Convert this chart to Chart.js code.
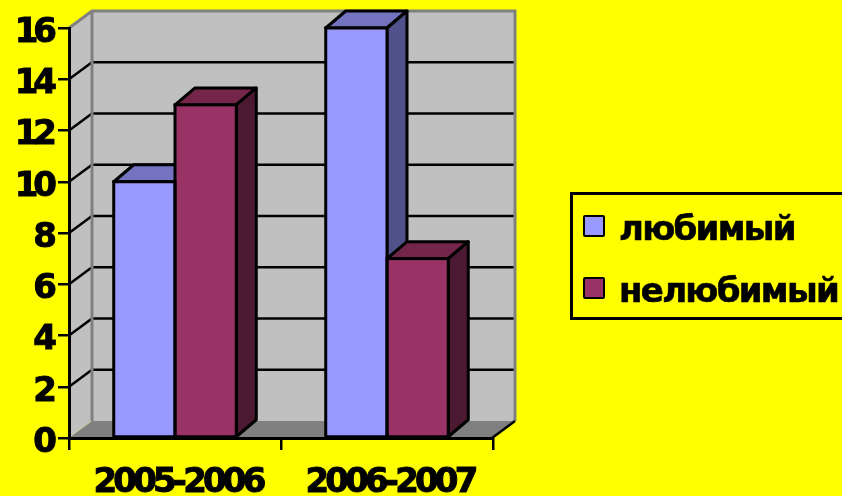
<!DOCTYPE html>
<html>
<head>
<meta charset="utf-8">
<script src="https://cdn.jsdelivr.net/npm/chart.js@4/dist/chart.umd.min.js"></script>
<style>
  html, body { margin: 0; padding: 0; background: #ffff00; overflow: hidden; }
  #wrap { position: relative; width: 842px; height: 496px; }
  #legend {
    position: absolute; left: 570px; top: 192px; width: 280px; height: 122px;
    border: 3px solid #000; box-sizing: content-box;
    font: bold 34px "DejaVu Sans"; letter-spacing: -1.7px; color: #000;
    -webkit-text-stroke: 0.6px #000;
  }
  #legend div { position: absolute; left: 46px; white-space: nowrap; line-height: 40px; }
  #legend i { position: absolute; left: -36px; top: 7px; width: 18px; height: 18px; border: 2.5px solid #000; border-radius: 2px; -webkit-text-stroke: 0; }
</style>
</head>
<body>
<div id="wrap">
  <canvas id="chart" width="842" height="496"></canvas>
  <div id="legend"></div>
</div>
<script>
const categories = ['2005-2006', '2006-2007'];
const seriesNames = ['любимый', 'нелюбимый'];
const liked = [10, 16];
const disliked = [13, 7];
const seriesColors = ['#9999ff', '#993366'];
const topColors = ['#7373bf', '#732649'];
const sideColors = ['#52528a', '#4c1933'];

const depthX = 23, depthY = 17;
const barDepthX = 20;

// fake 3D box: walls and floor go under everything
const walls = {
  id: 'walls',
  beforeDraw(chart) {
    const { ctx, chartArea: a, scales: { x, y } } = chart;
    // the two axes need different tightening of their labels
    const yLabels = y.drawLabels;
    y.drawLabels = function (area) {
      ctx.letterSpacing = '-5px';
      yLabels.call(this, area);
      ctx.letterSpacing = '0px';
    };
    const xLabels = x.drawLabels;
    x.drawLabels = function (area) {
      ctx.letterSpacing = '-3.8px';
      xLabels.call(this, area);
      ctx.letterSpacing = '0px';
    };
    ctx.save();
    const right = a.right - 1;
    ctx.fillStyle = '#c0c0c0';
    ctx.fillRect(a.left + depthX, a.top - depthY, right - a.left, a.height);
    ctx.beginPath();
    ctx.moveTo(a.left, a.top);
    ctx.lineTo(a.left + depthX, a.top - depthY);
    ctx.lineTo(a.left + depthX, a.bottom - depthY);
    ctx.lineTo(a.left, a.bottom);
    ctx.closePath();
    ctx.fill();
    ctx.fillStyle = '#808080';
    ctx.beginPath();
    ctx.moveTo(a.left, a.bottom);
    ctx.lineTo(a.left + depthX, a.bottom - depthY);
    ctx.lineTo(right + depthX, a.bottom - depthY);
    ctx.lineTo(right, a.bottom);
    ctx.closePath();
    ctx.fill();

    // gridlines along the side wall and back wall
    ctx.strokeStyle = '#000';
    ctx.lineWidth = 2.5;
    y.ticks.forEach(t => {
      if (t.value === 0 || t.value === 16) return;
      const py = y.getPixelForValue(t.value);
      ctx.beginPath();
      ctx.moveTo(a.left, py);
      ctx.lineTo(a.left + depthX, py - depthY);
      ctx.lineTo(right + depthX, py - depthY);
      ctx.stroke();
    });

    // grey edges
    ctx.strokeStyle = '#808080';
    ctx.lineWidth = 3;
    ctx.beginPath();
    ctx.moveTo(a.left, a.top);
    ctx.lineTo(a.left + depthX, a.top - depthY);
    ctx.lineTo(right + depthX, a.top - depthY);
    ctx.lineTo(right + depthX, a.bottom - depthY);
    ctx.moveTo(a.left + depthX, a.top - depthY);
    ctx.lineTo(a.left + depthX, a.bottom - depthY);
    ctx.stroke();

    ctx.strokeStyle = '#000';
    ctx.lineWidth = 2.5;
    ctx.beginPath();
    ctx.moveTo(right, a.bottom);
    ctx.lineTo(right + depthX, a.bottom - depthY);
    ctx.stroke();
    ctx.restore();
  }
};

// top and side faces of the bars, fronts come from Chart.js
const barFaces = {
  id: 'barFaces',
  beforeDatasetsDraw(chart) {
    const { ctx } = chart;
    ctx.save();
    ctx.strokeStyle = '#000';
    ctx.lineWidth = 3;
    ctx.lineJoin = 'round';
    chart.data.datasets.forEach((ds, i) => {
      chart.getDatasetMeta(i).data.forEach(bar => {
        const l = bar.x - bar.width / 2, r = bar.x + bar.width / 2;
        ctx.fillStyle = topColors[i];
        ctx.beginPath();
        ctx.moveTo(l, bar.y);
        ctx.lineTo(l + barDepthX, bar.y - depthY);
        ctx.lineTo(r + barDepthX, bar.y - depthY);
        ctx.lineTo(r, bar.y);
        ctx.closePath();
        ctx.fill();
        ctx.stroke();
        ctx.fillStyle = sideColors[i];
        ctx.beginPath();
        ctx.moveTo(r, bar.y);
        ctx.lineTo(r + barDepthX, bar.y - depthY);
        ctx.lineTo(r + barDepthX, bar.base - depthY);
        ctx.lineTo(r, bar.base);
        ctx.closePath();
        ctx.fill();
        ctx.stroke();
      });
    });
    ctx.restore();
  },
  afterDatasetsDraw(chart) {
    const { ctx } = chart;
    ctx.save();
    ctx.strokeStyle = '#000';
    ctx.lineWidth = 3;
    chart.data.datasets.forEach((ds, i) => {
      chart.getDatasetMeta(i).data.forEach(bar => {
        ctx.strokeRect(bar.x - bar.width / 2, bar.y, bar.width, bar.base - bar.y);
      });
    });
    ctx.restore();
  }
};

new Chart(document.getElementById('chart'), {
  type: 'bar',
  data: {
    labels: categories,
    datasets: [
      { label: seriesNames[0], data: liked, backgroundColor: seriesColors[0], borderWidth: 0 },
      { label: seriesNames[1], data: disliked, backgroundColor: seriesColors[1], borderWidth: 0 }
    ]
  },
  options: {
    responsive: false,
    animation: false,
    layout: { padding: { left: 0, top: 28, right: 349, bottom: 0 } },
    plugins: { legend: { display: false }, tooltip: { enabled: false } },
    datasets: { bar: { categoryPercentage: 0.578, barPercentage: 1 } },
    scales: {
      x: {
        afterFit: s => { s.height = 58; },
        grid: { drawOnChartArea: false, color: '#000', lineWidth: 2.5, tickLength: 12 },
        border: { color: '#000', width: 3 },
        ticks: { color: '#000', font: { family: 'DejaVu Sans', weight: 'bold', size: 34 }, padding: 13, maxRotation: 0, labelOffset: 3, textStrokeColor: '#000', textStrokeWidth: 1 }
      },
      y: {
        min: 0,
        max: 16,
        afterFit: s => { s.width = 69; },
        grid: { drawOnChartArea: false, color: '#000', lineWidth: 2.5, tickLength: 11 },
        border: { color: '#000', width: 3 },
        ticks: { stepSize: 2, color: '#000', font: { family: 'DejaVu Sans', weight: 'bold', size: 34 }, padding: 6, labelOffset: 5, textStrokeColor: '#000', textStrokeWidth: 1 }
      }
    }
  },
  plugins: [walls, barFaces]
});

// legend box
const legendBox = document.getElementById('legend');
seriesNames.forEach((name, i) => {
  const row = document.createElement('div');
  row.textContent = name;
  row.style.top = (13 + i * 62) + 'px';
  const swatch = document.createElement('i');
  swatch.style.background = seriesColors[i];
  row.appendChild(swatch);
  legendBox.appendChild(row);
});
</script>
</body>
</html>
